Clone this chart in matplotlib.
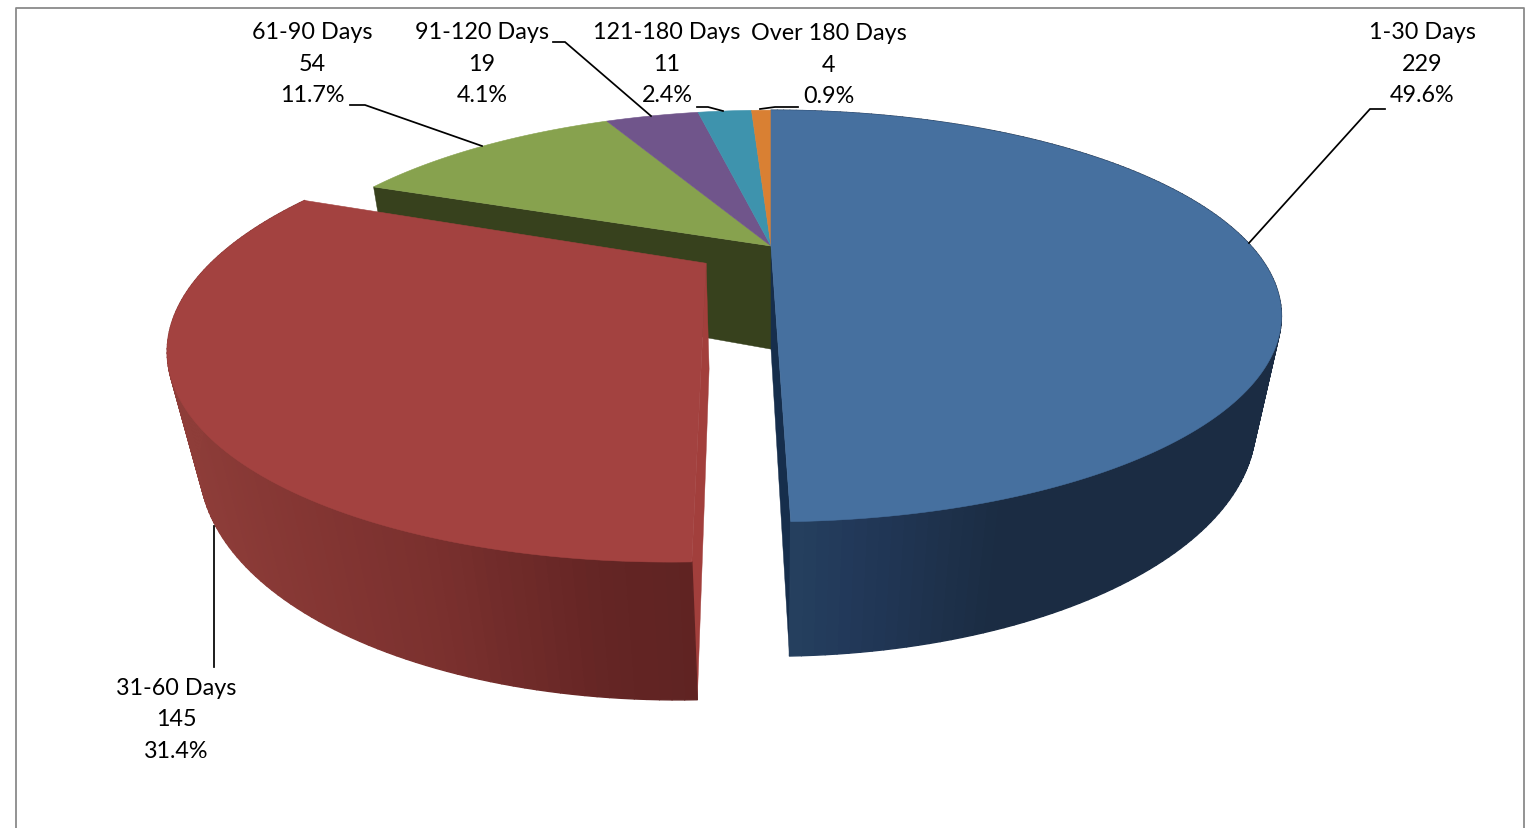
import numpy as np
import matplotlib
matplotlib.use("Agg")
import matplotlib.pyplot as plt
from matplotlib.collections import PolyCollection
from matplotlib.colors import to_rgb

# ---- data ----
categories = ["1-30 Days", "31-60 Days", "61-90 Days", "91-120 Days", "121-180 Days", "Over 180 Days"]
counts = [229, 145, 54, 19, 11, 4]
percent_labels = ["49.6%", "31.4%", "11.7%", "4.1%", "2.4%", "0.9%"]
explode = [0.0, 0.16, 0.0, 0.0, 0.0, 0.0]

# ---- style ----
top_colors = ["#46709F", "#A34240", "#87A24E", "#70558B", "#3E93AD", "#D98033"]
cut_colors = ["#162E4C", "#A23F3C", "#37411D", "#37411D", "#37411D", "#37411D"]
label_pos = [(1422, 64), (176, 720), (312, 64), (482, 64), (667, 64), (829, 65)]
leaders = [
    [(1385, 110), (1370, 110), (1249, 244)],
    [(214, 527), (214, 668)],
    [(350, 106), (365, 106), (482, 147)],
    [(553, 43), (565, 43), (651, 117)],
    [(697, 108), (708, 108), (723, 112)],
    [(760, 110), (775, 108), (798, 108)],
]
blue_shade = ([790, 850, 1000, 1260], ["#25405F", "#22395A", "#1B2C43", "#1B2C43"])
red_shade = ([170, 300, 430, 600, 700], ["#8E3D39", "#843633", "#7A302E", "#642524", "#5F2322"])
FONT = "Lato"
FS = 16.8

# ---- camera: unit disc -> picture ----
CX, CY = 771, 247
A, B, K, C, M = 182, 480, 0.34, 108, 0.047


def project(u, v, z=0.0):
    w = 1 - K * v + M * z
    return np.column_stack([CX + B * u / w, CY + (A * v + C * z) / w])


fig = plt.figure(figsize=(15.30, 8.29), dpi=100)
ax = fig.add_axes([0, 0, 1, 1])
ax.set_xlim(0, 1530)
ax.set_ylim(829, 0)
ax.axis("off")

# chart frame
ax.plot([16, 16, 1524, 1524], [829, 8.5, 8.5, 829], color="#8A8A8A", lw=1.3, zorder=0)

total = sum(counts)
edges = np.concatenate([[0], np.cumsum(counts)]) / total * 360.0
mids = (edges[:-1] + edges[1:]) / 2


def sector(i, per_deg=2):
    a = np.radians(np.linspace(edges[i], edges[i + 1], max(3, int((edges[i + 1] - edges[i]) * per_deg))))
    m = np.radians(mids[i])
    ox, oy = explode[i] * np.sin(m), -explode[i] * np.cos(m)
    return a, ox, oy


def draw_top(i, z):
    a, ox, oy = sector(i)
    us = np.concatenate([[ox], ox + np.sin(a)])
    vs = np.concatenate([[oy], oy - np.cos(a)])
    ax.fill(*project(us, vs).T, color=top_colors[i], lw=0.4, zorder=z)


def draw_cut(i, angle, z):
    _, ox, oy = sector(i)
    r = np.radians(angle)
    us = np.array([ox, ox + np.sin(r)])
    vs = np.array([oy, oy - np.cos(r)])
    pts = np.vstack([project(us, vs), project(us[::-1], vs[::-1], 1.0)])
    ax.fill(*pts.T, color=cut_colors[i], lw=0.3, zorder=z)


def draw_rim(i, shade, z):
    a, ox, oy = sector(i, 1)
    us, vs = ox + np.sin(a), oy - np.cos(a)
    p0, p1 = project(us, vs), project(us, vs, 1.0)
    polys = [[p0[j], p0[j + 1], p1[j + 1], p1[j]] for j in range(len(a) - 1)]
    xs = (p0[:-1, 0] + p0[1:, 0]) / 2
    stops = np.array([to_rgb(c) for c in shade[1]])
    cols = np.column_stack([np.interp(xs, shade[0], stops[:, k]) for k in range(3)])
    ax.add_collection(PolyCollection(polys, facecolors=cols, edgecolors=cols, linewidths=1.0, zorder=z))


# back slices
draw_cut(2, edges[2], 1)
# blue slice
draw_cut(0, edges[1], 2)
draw_rim(0, blue_shade, 3)
for i in [2, 3, 4, 5, 0]:
    draw_top(i, 4)
# exploded red slice
draw_cut(1, edges[1], 5)
draw_rim(1, red_shade, 6)
draw_top(1, 7)

# labels
for i, name in enumerate(categories):
    x, y = label_pos[i]
    ax.text(x, y, f"{name}\n{counts[i]}\n{percent_labels[i]}", ha="center", va="center",
            family=FONT, fontsize=FS, color="#000000", linespacing=1.6, zorder=9)
    xs, ys = zip(*leaders[i])
    ax.plot(xs, ys, color="black", lw=1.25, zorder=8, solid_joinstyle="miter")

fig.savefig("out.png", dpi=100, facecolor="white")
